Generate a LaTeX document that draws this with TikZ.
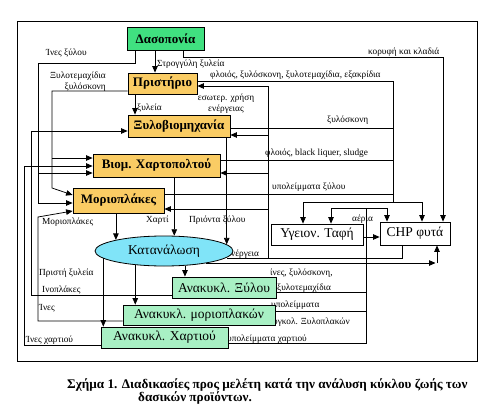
\documentclass[tikz,border=0pt]{standalone}
\usepackage{fontspec}
\setmainfont{Liberation Serif}
\usetikzlibrary{arrows.meta,shapes.geometric}
\definecolor{dasgreen}{RGB}{64,224,128}
\definecolor{boxorange}{RGB}{250,204,100}
\definecolor{katcyan}{RGB}{128,228,248}
\definecolor{recmint}{RGB}{168,240,196}
\begin{document}
\begin{tikzpicture}[x=1pt,y=-1pt,
  ln/.style={line width=0.75pt},
  arr/.style={ln,-{Triangle[length=6.5pt,width=5.5pt]}},
  box/.style={draw,line width=0.8pt,inner sep=0pt,font=\fontsize{13.5}{15}\selectfont},
  obox/.style={box,fill=boxorange,font=\bfseries\fontsize{13}{15}\selectfont},
  rbox/.style={box,fill=recmint,font=\fontsize{13.5}{15}\selectfont},
  lbl/.style={inner sep=0pt,font=\fontsize{9.3}{11}\selectfont},
  captxt/.style={anchor=west,inner sep=0pt,font=\bfseries\fontsize{13.2}{15}\selectfont},
]
\useasboundingbox (0,0) rectangle (497,409);
\draw[line width=0.8pt] (17,21) rectangle (477,361);

% labels
\node[lbl,anchor=west] (lb1) at (46,53) {Ίνες ξύλου};
\node[lbl,anchor=east,align=right] (lb2) at (106,81.5) {Ξυλοτεμαχίδια\\ξυλόσκονη};
\node[lbl,anchor=west] (lb3) at (157,64) {Στρογγύλη ξυλεία};
\node[lbl,anchor=west] (lb4) at (368,52) {κορυφή και κλαδιά};
\node[lbl,anchor=west] (lb5) at (210,75) {φλοιός, ξυλόσκονη, ξυλοτεμαχίδια, εξακρίδια};
\node[lbl,align=center] (lb6) at (226,103.5) {εσωτερ. χρήση\\ενέργειας};
\node[lbl,anchor=west] (lb7) at (137,108) {ξυλεία};
\node[lbl,anchor=west] (lb8) at (327,120) {ξυλόσκονη};
\node[lbl,anchor=west] (lb9) at (265,153) {φλοιός, black liquer, sludge};
\node[lbl,anchor=west] (lb10) at (272,187) {υπολείμματα ξύλου};
\node[lbl,anchor=west] (lb11) at (352,219) {αέρια};
\node[lbl,anchor=west] (lb12) at (42,222) {Μοριοπλάκες};
\node[lbl,anchor=west] (lb13) at (146,220) {Χαρτί};
\node[lbl,anchor=west] (lb14) at (189,220) {Πριόντα ξύλου};
\node[lbl,anchor=west] (lb15) at (227,254) {ενέργεια};
\node[lbl,anchor=west] (lb16) at (39,273) {Πριστή ξυλεία};
\node[lbl,anchor=west] (lb17) at (42,290) {Ινοπλάκες};
\node[lbl,anchor=west] (lb18) at (39,308) {Ίνες};
\node[lbl,anchor=west] (lb19) at (26,340) {Ίνες χαρτιού};
\node[lbl,anchor=west] (lb20) at (270,273) {ίνες, ξυλόσκονη,};
\node[lbl,anchor=west] (lb21) at (277,288) {ξυλοτεμαχίδια};
\node[lbl,anchor=west] (lb22) at (271,305) {υπολείμματα};
\node[lbl,anchor=west] (lb23) at (268,322) {συγκολ. Ξυλοπλακών};
\node[lbl,anchor=west] (lb24) at (227,339) {υπολείμματα χαρτιού};

% boxes
\node[box,fill=dasgreen,font=\bfseries\fontsize{13}{15}\selectfont,minimum width=77pt,minimum height=23pt] (das) at (165.5,38.5) {Δασοπονία};
\node[obox,minimum width=69pt,minimum height=21pt] (prist) at (162.5,83.5) {Πριστήριο};
\node[obox,minimum width=102pt,minimum height=22pt] (xylo) at (179,126) {Ξυλοβιομηχανία};
\node[obox,minimum width=127pt,minimum height=23pt] (xart) at (156.5,165.5) {Βιομ. Χαρτοπολτού};
\node[obox,minimum width=91pt,minimum height=25pt] (mor) at (118.5,200.5) {Μοριοπλάκες};
\node[ellipse,draw,line width=0.8pt,fill=katcyan,inner sep=0pt,minimum width=138pt,minimum height=30pt,font=\fontsize{13.5}{15}\selectfont] (kat) at (164,251) {Κατανάλωση};
\node[rbox,minimum width=104pt,minimum height=21pt] (anx) at (224,287.5) {Ανακυκλ. Ξύλου};
\node[rbox,minimum width=152pt,minimum height=20pt] (anm) at (199,315) {Ανακυκλ. μοριοπλακών};
\node[rbox,minimum width=127pt,minimum height=21pt] (anc) at (164.5,337.5) {Ανακυκλ. Χαρτιού};
\node[box,fill=white,minimum width=92pt,minimum height=21pt] (yg) at (317,234.5) {Υγειον. Ταφή};
\node[box,fill=white,minimum width=70pt,minimum height=23pt] (chp) at (415,233.5) {CHP φυτά};

% coordinates
\coordinate (a1) at (135,63); \coordinate (a2) at (38,63); \coordinate (a3) at (38,203); \coordinate (a4) at (38,173);
\coordinate (b1) at (52,91); \coordinate (b2) at (52,188); \coordinate (b3) at (52,158); \coordinate (b4) at (0,195);
\coordinate (c1) at (31,295); \coordinate (c2) at (31,131);
\coordinate (d1) at (38,321); \coordinate (d2) at (38,217); \coordinate (d3) at (0,211);
\coordinate (e1) at (24,345); \coordinate (e2) at (24,166);
\coordinate (f1) at (135,0); \coordinate (g1) at (155,0);
\coordinate (h1) at (183,57); \coordinate (h2) at (443,57);
\coordinate (i1) at (393,81); \coordinate (i2) at (393,202); \coordinate (j1) at (303,0); \coordinate (j2) at (422,0);
\coordinate (k1) at (393,128); \coordinate (l1) at (393,160); \coordinate (m1) at (393,194);
\coordinate (n1) at (402,258); \coordinate (n2) at (268,258); \coordinate (n3) at (268,86);
\coordinate (n4) at (268,135); \coordinate (n5) at (268,173); \coordinate (n6) at (268,209);
\coordinate (o1) at (437,263);
\coordinate (p1) at (366,292); \coordinate (p2) at (366,311); \coordinate (p3) at (366,343); \coordinate (p4) at (366,208);
\coordinate (q1) at (331,0); \coordinate (q2) at (387,0);
\coordinate (r1) at (0,237);

% connectors
\draw[arr] (das.south -| a1) -- (a1) -- (a2) -- (a3) -- (mor.west |- a3);
\draw[arr] (a4) -- (xart.west |- a4);
\draw[arr] (prist.west |- b1) -- (b1) -- (b2) -- (mor.west |- b4);
\draw[arr] (b3) -- (xart.west |- b3);
\draw[arr] (anx.west |- c1) -- (c1) -- (c2) -- (xylo.west |- c2);
\draw[arr] (anm.west |- d1) -- (d1) -- (d2) -- (mor.west |- d3);
\draw[arr] (anc.west |- e1) -- (e1) -- (e2) -- (xart.west |- e2);
\draw[arr] (prist.south -| f1) -- (xylo.north -| f1);
\draw[arr] (das.south -| g1) -- (prist.north -| g1);
\draw[arr] (das.south -| h1) -- (h1) -- (h2) -- (chp.north -| h2);
\draw[ln] (prist.east |- i1) -- (i1) -- (i2);
\draw[arr] (i2) -| (yg.north -| j1);
\draw[arr] (i2) -| (chp.north -| j2);
\draw[ln] (xylo.east |- k1) -- (k1);
\draw[ln] (xart.east |- l1) -- (l1);
\draw[ln] (mor.east |- m1) -- (m1);
\draw[arr] (chp.south -| n1) -- (n1) -- (n2) -- (n3) -- (prist.east |- n3);
\draw[arr] (n4) -- (xylo.east |- n4);
\draw[arr] (n5) -- (xart.east |- n5);
\draw[arr] (n6) -- (mor.east |- n6);
\draw[ln] (n2) -- (kat.-6.54 |- n2);
\draw[arr,shorten >=1.5pt] (kat.-16.17 |- o1) -- (o1);
\draw[arr] (o1) -- (chp.south -| o1);
\draw[ln] (anx.east |- p1) -- (p1);
\draw[ln] (anm.east |- p2) -- (p2);
\draw[ln] (anc.east |- p3) -- (p3) -- (p4);
\draw[arr] (p4) -| (yg.north -| q1);
\draw[arr] (p4) -| (chp.north -| q2);
\draw[arr] (yg.east |- r1) -- (chp.west |- r1);
\draw[arr] (xylo.south -| kat.6.07) -- (kat.6.07);
\draw[arr] (xart.south -| kat.56) -- (kat.56);
\draw[arr] (mor.south -| kat.167.84) -- (kat.167.84);
\draw[arr] (kat.187.51) -- (anc.north -| kat.187.51);
\draw[arr] (kat.206.09) -- (anm.north -| kat.206.09);
\draw[arr] (kat.-35.68) -- (anx.north -| kat.-35.68);

% caption
\node[captxt] (cap1) at (67,385) {Σχήμα 1. Διαδικασίες προς μελέτη κατά την ανάλυση κύκλου ζωής των};
\node[captxt] (cap2) at (138,398) {δασικών προϊόντων.};
\end{tikzpicture}
\end{document}
